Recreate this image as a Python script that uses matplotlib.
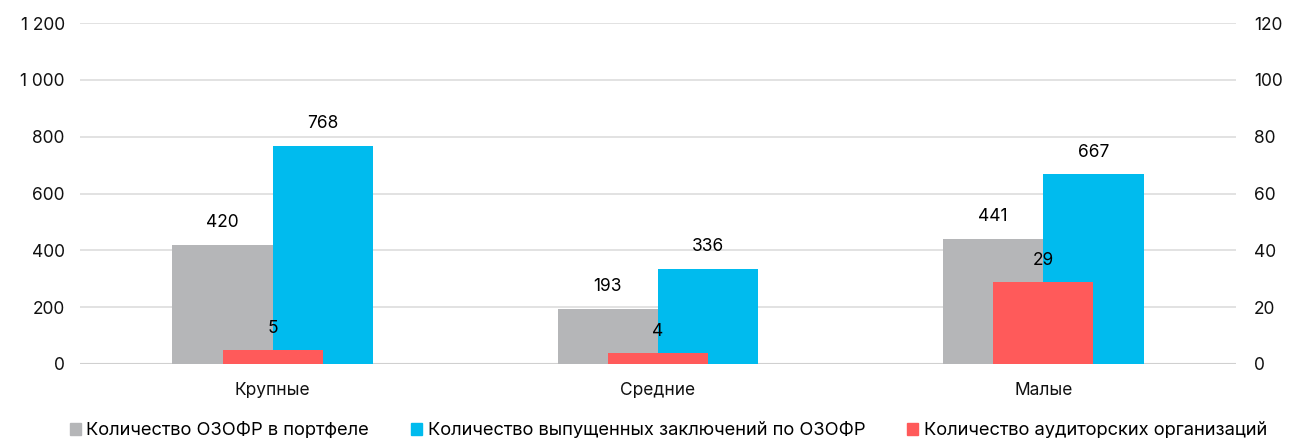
import matplotlib
matplotlib.use('Agg')
import matplotlib.pyplot as plt
import numpy as np
from matplotlib.patches import Patch

plt.rcParams['font.family'] = ['Inter', 'DejaVu Sans']

# data
categories = ['Крупные', 'Средние', 'Малые']
portfolio = [420, 193, 441]
conclusions = [768, 336, 667]
auditors = [5, 4, 29]

labels = ['Количество ОЗОФР в портфеле',
          'Количество выпущенных заключений по ОЗОФР',
          'Количество аудиторских организаций']
c_grey = '#B5B6B8'
c_blue = '#00BBEE'
c_red = '#FF5A5A'

fig = plt.figure(figsize=(12.98, 4.46), dpi=100)
ax = fig.add_axes([80/1298, 1 - 364/446, 1156/1298, 341/446])
ax2 = ax.twinx()

x = np.arange(len(categories))
w = 0.26

b1 = ax.bar(x - w/2, portfolio, w, color=c_grey, zorder=2)
b2 = ax.bar(x + w/2, conclusions, w, color=c_blue, zorder=2)
b3 = ax2.bar(x, auditors, w, color=c_red, zorder=3)

ax.set_xlim(-0.5, 2.5)
ax.set_ylim(0, 1200)
ax2.set_ylim(0, 120)
left_ticks = list(range(0, 1201, 200))
ax.set_yticks(left_ticks)
ax.set_yticklabels([f'{v:,}'.replace(',', ' ') for v in left_ticks])
ax2.set_yticks(np.arange(0, 121, 20))

ax.grid(axis='y', color='#DDDDDD', linewidth=1.2, zorder=0)
ax.set_axisbelow(True)
for a in (ax, ax2):
    for s in a.spines.values():
        s.set_visible(False)
    a.tick_params(length=0, labelsize=12.5, colors='#111111')
ax.tick_params(axis='y', pad=11)
ax2.tick_params(axis='y', pad=13)
ax.tick_params(axis='x', pad=13)
ax.axhline(0, color='#D0D0D0', linewidth=1.5, zorder=1)
ax.set_xticks(x)
ax.set_xticklabels(categories)

ax.bar_label(b1, padding=10, fontsize=12.5)
ax.bar_label(b2, padding=10, fontsize=12.5)
ax2.bar_label(b3, padding=9, fontsize=12.5)

handles = [Patch(color=c_grey), Patch(color=c_blue), Patch(color=c_red)]
fig.legend(handles, labels, loc='lower center', bbox_to_anchor=(0.515, -0.022), ncol=3,
           frameon=False, fontsize=13.2, handlelength=0.6, handleheight=0.6,
           handletextpad=0.3, columnspacing=2.3)

fig.savefig('out.png', dpi=100)
